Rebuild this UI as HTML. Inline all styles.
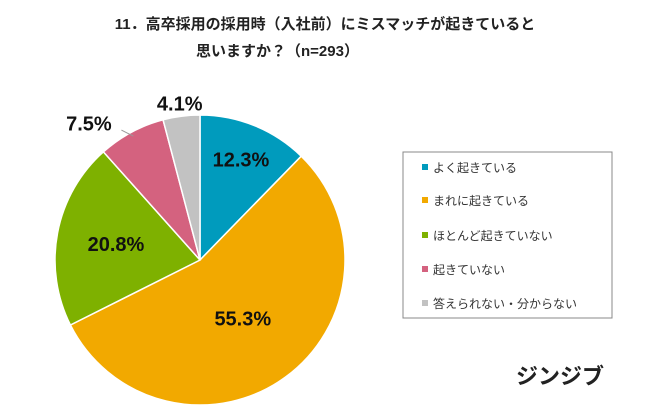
<!DOCTYPE html>
<html><head><meta charset="utf-8"><style>
body{margin:0;background:#fff;font-family:"Liberation Sans","Noto Sans CJK JP",sans-serif;}
#wrap{position:relative;width:650px;height:416px;overflow:hidden}
</style></head><body>
<div id="wrap">
<svg id="svg" width="650" height="416" xmlns="http://www.w3.org/2000/svg" font-family="Liberation Sans, Noto Sans CJK JP, sans-serif">
<text x="325" y="29" text-anchor="middle" font-size="15" font-weight="bold" fill="#222">11．高卒採用の採用時（入社前）にミスマッチが起きていると</text>
<text x="196" y="56" font-size="15" font-weight="bold" fill="#222">思いますか？（n=293）</text>
<g id="pie"></g>
<rect x="403" y="152" width="209" height="166" fill="#fff" stroke="#888" stroke-width="1"/>
<g id="legend"></g>
<text x="560" y="384" text-anchor="middle" font-size="22" font-weight="bold" fill="#222">ジンジブ</text>
</svg>
</div>
<script>
const categories=["よく起きている","まれに起きている","ほとんど起きていない","起きていない","答えられない・分からない"];
const values=[12.3,55.3,20.8,7.5,4.1];
const colors=["#009bbd","#f2a900","#7eb100","#d4627f","#c2c2c2"];
const labelRadius=[0.75,0.5,0.59,1.21,1.09];
const labelShiftX=[0,0,0,-28,0];
const labelShiftY=[0,0,0,18,0];
const NS="http://www.w3.org/2000/svg";
const cx=200,cy=260,r=145;
const pie=document.getElementById('pie');
const total=values.reduce((a,b)=>a+b,0);
let a0=0;
values.forEach((v,i)=>{
  const a1=a0+v/total*2*Math.PI;
  const p=t=>[cx+r*Math.sin(t),cy-r*Math.cos(t)];
  const [x0,y0]=p(a0),[x1,y1]=p(a1);
  const path=document.createElementNS(NS,'path');
  path.setAttribute('d',`M${cx},${cy}L${x0},${y0}A${r},${r} 0 ${a1-a0>Math.PI?1:0} 1 ${x1},${y1}Z`);
  path.setAttribute('fill',colors[i]);path.setAttribute('stroke','#fff');path.setAttribute('stroke-width','1.5');
  
  
  pie.appendChild(path);
  const mid=(a0+a1)/2;
  const lr=r*labelRadius[i];
  const lx=cx+lr*Math.sin(mid)+labelShiftX[i],ly=cy-lr*Math.cos(mid)+labelShiftY[i];
  if(i===3){
    const ln=document.createElementNS(NS,'path');
    const ex=cx+r*0.97*Math.sin(mid),ey=cy-r*0.97*Math.cos(mid);
    ln.setAttribute('d',`M${ex},${ey}L${ex-12},${ey-6}`);
    ln.setAttribute('stroke','#999');ln.setAttribute('fill','none');
    
    
    pie.appendChild(ln);
  }
  const t=document.createElementNS(NS,'text');
  t.setAttribute('x',lx);t.setAttribute('y',ly+7);t.setAttribute('text-anchor','middle');
  t.setAttribute('font-size','20');t.setAttribute('font-weight','bold');t.setAttribute('fill','#111');
  t.textContent=v.toFixed(1)+'%';
  
  
  pie.appendChild(t);
  a0=a1;
});
const lg=document.getElementById('legend');
const ys=[168,201,236,270,304];
categories.forEach((c,i)=>{
  const s=document.createElementNS(NS,'rect');
  s.setAttribute('x',422);s.setAttribute('y',ys[i]-4);s.setAttribute('width',6);s.setAttribute('height',6);s.setAttribute('fill',colors[i]);
  
  
  lg.appendChild(s);
  const t=document.createElementNS(NS,'text');
  t.setAttribute('x',433);t.setAttribute('y',ys[i]+4);t.setAttribute('font-size','12');t.setAttribute('fill','#333');
  t.textContent=c;
  
  
  lg.appendChild(t);
});
</script>
</body></html>
